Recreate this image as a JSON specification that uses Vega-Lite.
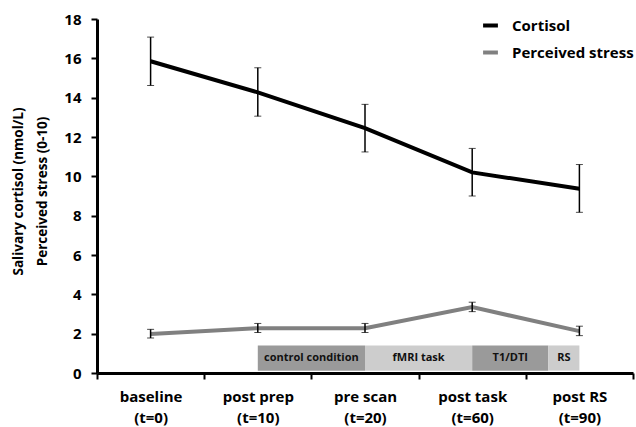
{
  "$schema": "https://vega.github.io/schema/vega-lite/v6.json",
  "width": 536,
  "height": 354,
  "autosize": {"type": "none"},
  "padding": {"left": 97, "top": 19, "right": 3, "bottom": 54},
  "background": "white",
  "config": {
    "font": "Open Sans",
    "view": {"stroke": null},
    "axis": {"grid": false, "domainColor": "black", "domainWidth": 3, "tickColor": "black", "tickWidth": 2, "labelColor": "black", "labelFont": "Open Sans", "labelFontWeight": "bold", "labelFontSize": 15, "titleFont": "Open Sans", "titleFontWeight": "bold", "titleColor": "black"}
  },
  "datasets": {
    "points": [
      {"series": "Cortisol", "pos": 0.5, "mean": 15.85, "lo": 14.62, "hi": 17.08},
      {"series": "Cortisol", "pos": 1.5, "mean": 14.27, "lo": 13.06, "hi": 15.52},
      {"series": "Cortisol", "pos": 2.5, "mean": 12.45, "lo": 11.24, "hi": 13.66},
      {"series": "Cortisol", "pos": 3.5, "mean": 10.2, "lo": 9.0, "hi": 11.42},
      {"series": "Cortisol", "pos": 4.5, "mean": 9.37, "lo": 8.17, "hi": 10.6},
      {"series": "Perceived stress", "pos": 0.5, "mean": 1.98, "lo": 1.78, "hi": 2.22},
      {"series": "Perceived stress", "pos": 1.5, "mean": 2.28, "lo": 2.06, "hi": 2.52},
      {"series": "Perceived stress", "pos": 2.5, "mean": 2.28, "lo": 2.06, "hi": 2.52},
      {"series": "Perceived stress", "pos": 3.5, "mean": 3.35, "lo": 3.12, "hi": 3.6},
      {"series": "Perceived stress", "pos": 4.5, "mean": 2.13, "lo": 1.9, "hi": 2.38}
    ],
    "blocks": [
      {"phase": "control condition", "start": 1.5, "end": 2.5, "shade": "dark"},
      {"phase": "fMRI task", "start": 2.5, "end": 3.5, "shade": "light"},
      {"phase": "T1/DTI", "start": 3.5, "end": 4.21, "shade": "dark"},
      {"phase": "RS", "start": 4.21, "end": 4.5, "shade": "light"}
    ]
  },
  "encoding": {
    "x": {"type": "quantitative", "scale": {"domain": [0, 5], "nice": false, "zero": false},
      "axis": {"values": [0, 1, 2, 3, 4, 5], "title": null, "tickSize": 6, "labelOffset": 53.6, "labelPadding": 10, "labelLineHeight": 21, "labelOverlap": false, "labelFlush": false, "labelBound": false,
        "labelExpr": "datum.value == 0 ? ['baseline', '(t=0)'] : datum.value == 1 ? ['post prep', '(t=10)'] : datum.value == 2 ? ['pre scan', '(t=20)'] : datum.value == 3 ? ['post task', '(t=60)'] : datum.value == 4 ? ['post RS', '(t=90)'] : ''"}},
    "y": {"type": "quantitative", "scale": {"domain": [0, 18], "nice": false},
      "axis": {"values": [0, 2, 4, 6, 8, 10, 12, 14, 16, 18], "tickSize": 6, "labelPadding": 10, "title": ["Salivary cortisol (nmol/L)", "Perceived stress (0-10)"], "titleFontSize": 13.5, "titleLineHeight": 24, "titlePadding": 14, "titleY": 172}}
  },
  "layer": [
    {
      "data": {"name": "blocks"},
      "mark": {"type": "rect"},
      "encoding": {
        "x": {"field": "start", "type": "quantitative"},
        "x2": {"field": "end"},
        "y": {"datum": 1.4, "type": "quantitative"},
        "y2": {"datum": 0.12},
        "color": {"field": "shade", "type": "nominal", "scale": {"domain": ["dark", "light"], "range": ["#9a9a9a", "#cdcdcd"]}, "legend": null}
      }
    },
    {
      "data": {"name": "blocks"},
      "mark": {"type": "text", "fontWeight": "bold", "fontSize": 11, "color": "#111", "font": "Open Sans"},
      "transform": [{"calculate": "(datum.start + datum.end) / 2", "as": "mid"}],
      "encoding": {
        "x": {"field": "mid", "type": "quantitative"},
        "y": {"datum": 0.76, "type": "quantitative"},
        "text": {"field": "phase"}
      }
    },
    {
      "data": {"name": "points"},
      "mark": {"type": "line", "strokeWidth": 4},
      "encoding": {
        "x": {"field": "pos", "type": "quantitative"},
        "y": {"field": "mean", "type": "quantitative"},
        "stroke": {"field": "series", "type": "nominal", "scale": {"domain": ["Cortisol", "Perceived stress"], "range": ["#000000", "#808080"]},
          "legend": {"title": null, "orient": "none", "legendX": 384, "legendY": -3, "symbolType": "stroke", "symbolStrokeWidth": 4, "symbolSize": 220, "labelFontSize": 15, "labelFontWeight": "bold", "labelFont": "Open Sans", "labelColor": "black", "rowPadding": 9, "labelOffset": 12}}
      }
    },
    {
      "data": {"name": "points"},
      "mark": {"type": "errorbar", "ticks": {"size": 7, "color": "black", "strokeWidth": 1.5}, "rule": {"color": "black", "strokeWidth": 1.5}},
      "encoding": {
        "x": {"field": "pos", "type": "quantitative"},
        "y": {"field": "lo", "type": "quantitative"},
        "y2": {"field": "hi"}
      }
    }
  ]
}
